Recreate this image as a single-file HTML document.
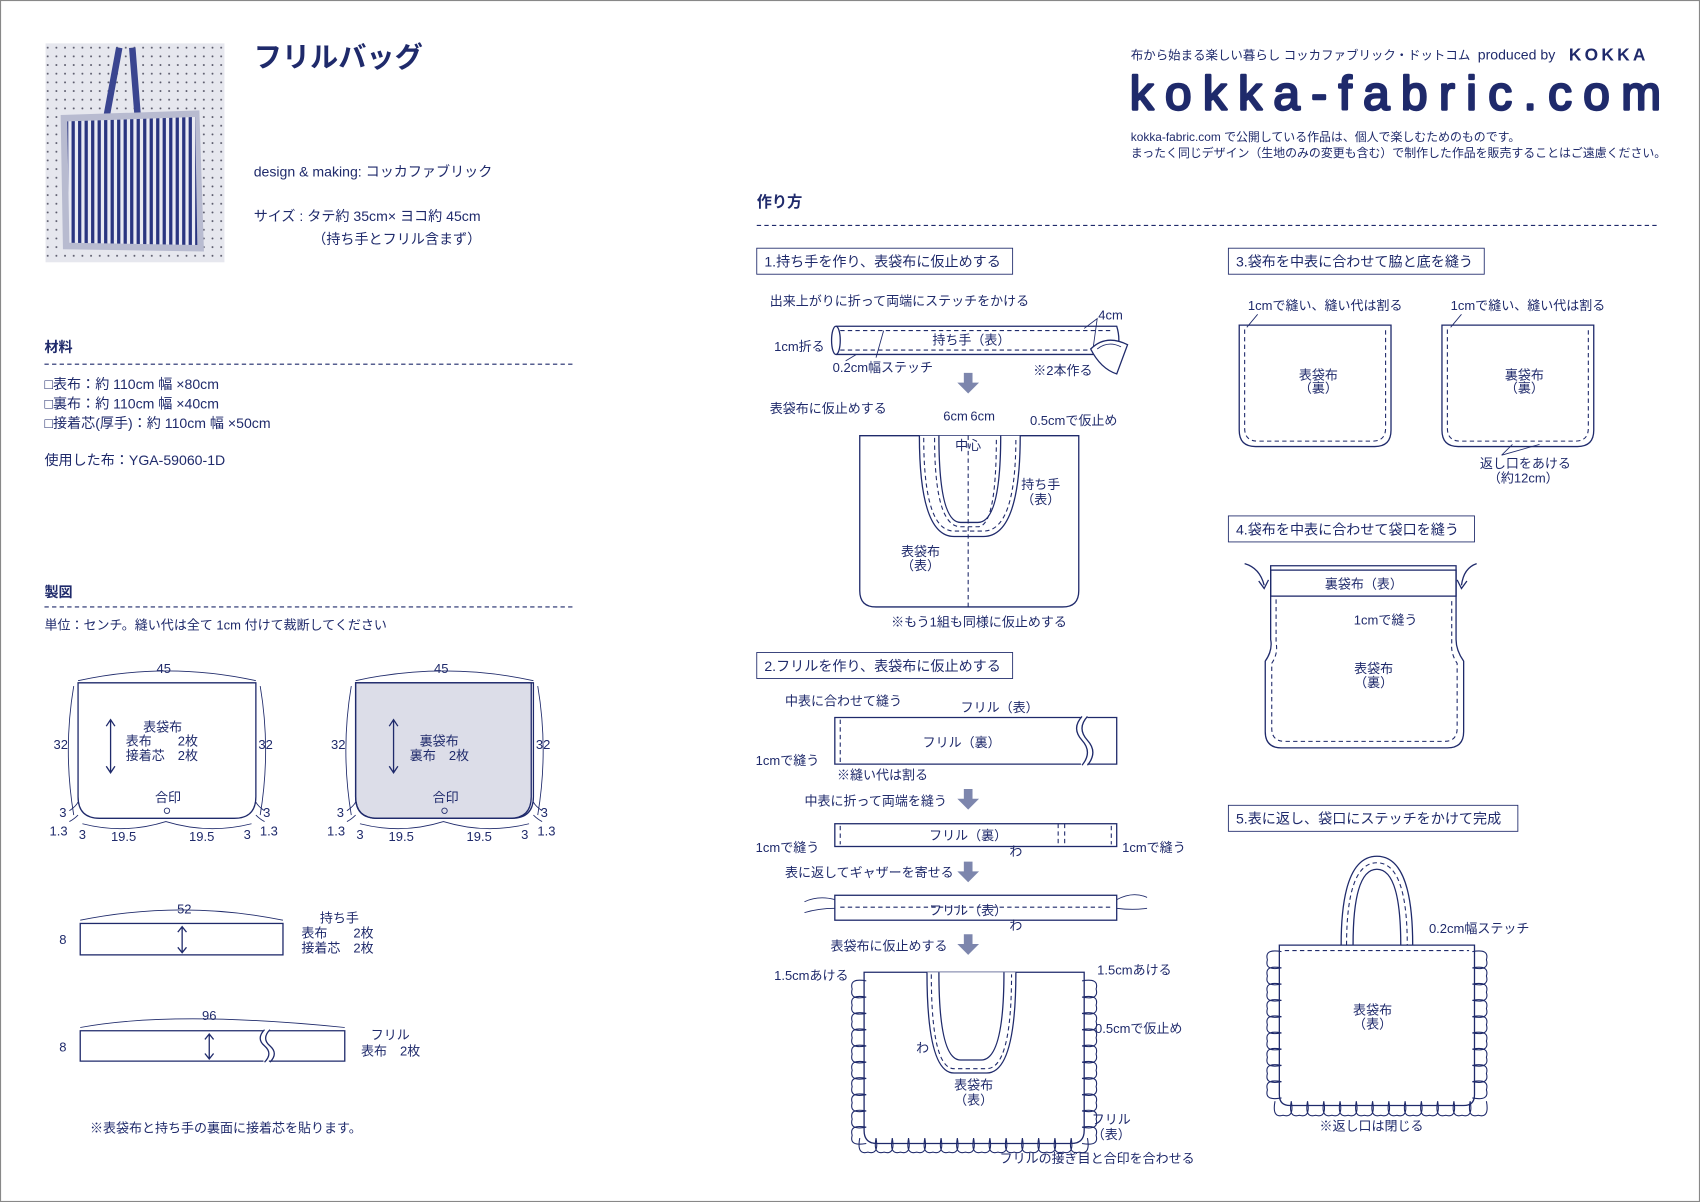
<!DOCTYPE html>
<html><head><meta charset="utf-8"><style>
html,body{margin:0;padding:0;background:#fff;width:1700px;height:1202px;overflow:hidden}
svg{display:block}
text{font-family:"Liberation Sans","Noto Sans CJK JP",sans-serif;fill:#1f2a6b;font-size:12px}
.s{font-size:11.5px}
.m{font-size:13px}
.b{font-weight:bold}
.ln{stroke:#1f2a6b;stroke-width:1.2;fill:none}
.th{stroke:#1f2a6b;stroke-width:0.8;fill:none}
.ds{stroke:#1f2a6b;stroke-width:1;fill:none;stroke-dasharray:4 3}
.fl{stroke:#1f2a6b;stroke-width:1.2;fill:#fff}
.ar{fill:#7d86ad}
</style></head><body>
<svg id="s" width="1700" height="1202" viewBox="0 0 1568 1109" preserveAspectRatio="none">
<rect x="0.5" y="0.5" width="1567" height="1108" fill="#fff" stroke="#888" stroke-width="1"/>
<defs>
<pattern id="st" width="6" height="6" patternUnits="userSpaceOnUse"><rect width="6" height="6" fill="#e8e9f2"/><rect width="3" height="6" fill="#2a3580"/></pattern>
<pattern id="dt" width="8" height="8" patternUnits="userSpaceOnUse"><rect width="8" height="8" fill="#e6e7ee"/><circle cx="4" cy="4" r="0.9" fill="#556"/></pattern>
</defs>
<!-- photo -->
<rect x="42" y="40" width="165" height="202" fill="url(#dt)"/>
<path d="M96 120 L110 44 M122 44 L128 120" fill="none" stroke="#3a4590" stroke-width="6"/>
<path d="M60 110 L180 106 L184 228 L62 226 Z" fill="#c9cbe0" stroke="#b8bbd0" stroke-width="8"/>
<path d="M62 112 L180 108 L182 226 L64 224 Z" fill="url(#st)"/>
<text x="234" y="62" class="b" style="font-size:26px">フリルバッグ</text>
<text x="234" y="163" class="m">design &amp; making: コッカファブリック</text>
<text x="234" y="204" class="m">サイズ : タテ約 35cm× ヨコ約 45cm</text>
<text x="288" y="225" class="m">（持ち手とフリル含まず）</text>
<text x="41" y="325" class="m b">材料</text>
<line x1="41" y1="336" x2="528" y2="336" class="ds"/>
<text x="41" y="359" class="m">□表布：約 110cm 幅 ×80cm</text>
<text x="41" y="377" class="m">□裏布：約 110cm 幅 ×40cm</text>
<text x="41" y="395" class="m">□接着芯(厚手)：約 110cm 幅 ×50cm</text>
<text x="41" y="429" class="m">使用した布：YGA-59060-1D</text>
<text x="41" y="551" class="m b">製図</text>
<line x1="41" y1="560" x2="528" y2="560" class="ds"/>
<text x="41" y="581">単位：センチ。縫い代は全て 1cm 付けて裁断してください</text>
<!-- pattern 1 -->
<g id="p1">
<path d="M72 630 H236 V735 Q236 755 216 755 H92 Q72 755 72 735 Z" class="ln"/>
<path d="M72 628 Q154 610 236 628" class="th"/>
<path d="M68 633 Q58 692 68 752" class="th"/><path d="M240 633 Q250 692 240 752" class="th"/>
<path d="M76 760 Q115 770 153 758 Q192 770 232 760" class="th"/>
<circle cx="154" cy="748" r="2.5" class="th"/>
<text x="151" y="621" text-anchor="middle">45</text>
<text x="56" y="691" text-anchor="middle">32</text><text x="245" y="691" text-anchor="middle">32</text>
<text x="155" y="740" text-anchor="middle">合印</text>
<text x="58" y="754" text-anchor="middle">3</text><text x="54" y="771" text-anchor="middle">1.3</text>
<text x="76" y="774" text-anchor="middle">3</text><text x="114" y="776" text-anchor="middle">19.5</text>
<text x="186" y="776" text-anchor="middle">19.5</text><text x="228" y="774" text-anchor="middle">3</text>
<text x="246" y="754" text-anchor="middle">3</text><text x="248" y="771" text-anchor="middle">1.3</text>
<path d="M64 748 Q70 744 72 740 M64 758 Q68 756 72 752" class="th"/>
<path d="M244 748 Q238 744 236 740 M244 758 Q240 756 236 752" class="th"/>
</g>
<path d="M102 665 V712 M98 670 L102 664 L106 670 M98 707 L102 713 L106 707" class="ln"/>
<text x="150" y="675" text-anchor="middle">表袋布</text>
<text x="116" y="688">表布　　2枚</text><text x="116" y="701">接着芯　2枚</text>
<!-- pattern 2 -->
<path d="M328 630 H490 V735 Q490 755 470 755 H348 Q328 755 328 735 Z" fill="#dcdde8" stroke="#1f2a6b" stroke-width="1.2"/>
<use href="#p1" x="256"/>
<path d="M363 665 V712 M359 670 L363 664 L367 670 M359 707 L363 713 L367 707" class="ln"/>
<text x="405" y="688" text-anchor="middle">裏袋布</text>
<text x="378" y="701">裏布　2枚</text>
<!-- handle -->
<rect x="74" y="852" width="187" height="29" class="ln"/>
<path d="M74 849 Q168 830 261 849" class="th"/>
<text x="170" y="843" text-anchor="middle">52</text><text x="58" y="871" text-anchor="middle">8</text>
<path d="M168 856 V878 M164 860 L168 855 L172 860 M164 874 L168 879 L172 874" class="ln"/>
<text x="295" y="851">持ち手</text><text x="278" y="865">表布　　2枚</text><text x="278" y="879">接着芯　2枚</text>
<!-- frill -->
<path d="M243 951 H74 V979 H243 M248 951 H318 V979 H248" class="ln"/>
<path d="M244 950 Q236 958 244 965 Q252 972 244 980 M249 950 Q241 958 249 965 Q257 972 249 980" class="ln"/>
<path d="M74 948 Q160 932 318 948" class="th"/>
<text x="193" y="941" text-anchor="middle">96</text><text x="58" y="970" text-anchor="middle">8</text>
<path d="M193 955 V976 M189 959 L193 954 L197 959 M189 972 L193 977 L197 972" class="ln"/>
<text x="342" y="959">フリル</text><text x="333" y="974">表布　2枚</text>
<text x="83" y="1045">※表袋布と持ち手の裏面に接着芯を貼ります。</text>
<!-- header right -->
<text x="1043" y="55" class="s">布から始まる楽しい暮らし コッカファブリック・ドットコム</text>
<text x="1363" y="55" class="m">produced by</text>
<text x="1447" y="56" class="b" style="font-size:16px;letter-spacing:3px">KOKKA</text>
<text x="1042" y="101" style="font-size:44px;stroke:#1f2a6b;stroke-width:2.2;stroke-linejoin:round" textLength="490" lengthAdjust="spacing">kokka-fabric.com</text>
<text x="1043" y="130" style="font-size:11px">kokka-fabric.com で公開している作品は、個人で楽しむためのものです。</text>
<text x="1043" y="145" style="font-size:11px">まったく同じデザイン（生地のみの変更も含む）で制作した作品を販売することはご遠慮ください。</text>
<text x="698" y="191" class="b" style="font-size:14px">作り方</text>
<line x1="698" y1="208" x2="1530" y2="208" class="ds"/>
<!-- step boxes -->
<rect x="698" y="229" width="236" height="24" class="th"/><text x="705" y="246" class="m">1.持ち手を作り、表袋布に仮止めする</text>
<rect x="1133" y="229" width="236" height="24" class="th"/><text x="1140" y="246" class="m">3.袋布を中表に合わせて脇と底を縫う</text>
<rect x="1133" y="476" width="227" height="24" class="th"/><text x="1140" y="493" class="m">4.袋布を中表に合わせて袋口を縫う</text>
<rect x="698" y="602" width="236" height="24" class="th"/><text x="705" y="619" class="m">2.フリルを作り、表袋布に仮止めする</text>
<rect x="1133" y="743" width="267" height="24" class="th"/><text x="1140" y="760" class="m">5.表に返し、袋口にステッチをかけて完成</text>
<!-- step1 -->
<text x="710" y="282">出来上がりに折って両端にステッチをかける</text>
<path d="M771 301 H1030 Q1034 314 1030 327 H771" class="ln"/>
<ellipse cx="771" cy="314" rx="4" ry="13" class="ln"/>
<path d="M775 305 H1026 M775 323 H1026" class="ds"/>
<text x="896" y="318" text-anchor="middle">持ち手（表）</text>
<text x="714" y="324">1cm折る</text><text x="768" y="343">0.2cm幅ステッチ</text>
<text x="953" y="346">※2本作る</text><text x="1013" y="295">4cm</text>
<path d="M1000 303 L1012 294 L1008 323" class="th"/><path d="M790 327 L780 333 M815 305 L808 330" class="th"/>
<path d="M1006 322 Q1020 308 1040 318 L1030 345 Q1015 340 1006 322 Z" class="fl"/>
<path d="M1012 322 Q1022 314 1034 320" class="th"/>
<path class="ar" d="M889 344 h8 v9 h6 l-10 10 l-10 -10 h6 z"/>
<text x="710" y="381">表袋布に仮止めする</text>
<text x="870" y="388">6cm</text><text x="895" y="388">6cm</text><text x="950" y="392">0.5cmで仮止め</text>
<path d="M793 402 H995 V545 Q995 560 980 560 H808 Q793 560 793 545 Z" class="ln"/>
<path d="M848 402 Q848 495 880 495 H907 Q941 495 941 402 M866 402 Q866 482 886 482 H902 Q923 482 923 402" class="fl"/>
<path d="M852 404 Q852 490 880 490 H907 Q937 490 937 404 M862 404 Q862 486 886 486 H902 Q919 486 919 404" class="ds"/>
<line x1="893" y1="402" x2="893" y2="560" class="ds"/>
<text x="893" y="415" text-anchor="middle">中心</text>
<text x="960" y="451" text-anchor="middle">持ち手</text><text x="960" y="465" text-anchor="middle">（表）</text>
<text x="849" y="513" text-anchor="middle">表袋布</text><text x="849" y="526" text-anchor="middle">（表）</text>
<text x="903" y="578" text-anchor="middle">※もう1組も同様に仮止めする</text>
<!-- step2 -->
<text x="724" y="651">中表に合わせて縫う</text><text x="886" y="657">フリル（表）</text>
<path d="M997 662 H770 V705 H997 M1003 662 H1030 V705 H1003" class="ln"/>
<path d="M998 661 Q988 672 998 683 Q1008 694 998 706 M1003 661 Q993 672 1003 683 Q1013 694 1003 706" class="ln"/>
<line x1="775" y1="664" x2="775" y2="703" class="ds"/>
<text x="887" y="689" text-anchor="middle">フリル（裏）</text>
<text x="697" y="706">1cmで縫う</text><text x="772" y="719">※縫い代は割る</text>
<path class="ar" d="M889 728 h8 v9 h6 l-10 10 l-10 -10 h6 z"/>
<text x="742" y="743">中表に折って両端を縫う</text>
<rect x="770" y="760" width="260" height="21" class="ln"/>
<path d="M775 762 V779 M1025 762 V779 M976 760 V781 M982 760 V781" class="ds"/>
<text x="893" y="775" text-anchor="middle">フリル（裏）</text>
<text x="697" y="786">1cmで縫う</text><text x="1035" y="786">1cmで縫う</text><text x="931" y="790">わ</text>
<path class="ar" d="M889 795 h8 v9 h6 l-10 10 l-10 -10 h6 z"/>
<text x="724" y="809">表に返してギャザーを寄せる</text>
<rect x="770" y="826" width="260" height="23" class="ln"/>
<path d="M770 830 Q755 826 742 832 M770 838 Q755 838 742 842 M1030 830 Q1045 822 1058 828 M1030 838 Q1045 840 1058 838" class="th"/>
<line x1="775" y1="837" x2="1025" y2="837" class="ds"/>
<text x="893" y="844" text-anchor="middle">フリル（表）</text><text x="931" y="858">わ</text>
<path class="ar" d="M889 862 h8 v9 h6 l-10 10 l-10 -10 h6 z"/>
<text x="766" y="877">表袋布に仮止めする</text>
<g id="fb"></g>
<path d="M797 897 H1000 V1043 Q1000 1055 988 1055 H809 Q797 1055 797 1043 Z" class="ln"/>
<path d="M855 897 Q855 990 880 990 H910 Q937 990 937 897 M866 897 Q866 978 886 978 H905 Q926 978 926 897" class="fl"/>
<path d="M859 899 Q859 986 880 986 H910 Q933 986 933 899" class="ds"/>
<text x="714" y="904">1.5cmあける</text><text x="1012" y="899">1.5cmあける</text>
<text x="1010" y="953">0.5cmで仮止め</text><text x="845" y="971">わ</text>
<text x="898" y="1005" text-anchor="middle">表袋布</text><text x="898" y="1019" text-anchor="middle">（表）</text>
<text x="1025" y="1037" text-anchor="middle">フリル</text><text x="1025" y="1051" text-anchor="middle">（表）</text>
<text x="922" y="1073">フリルの接ぎ目と合印を合わせる</text>
<!-- step3 -->
<text x="1151" y="286">1cmで縫い、縫い代は割る</text><text x="1338" y="286">1cmで縫い、縫い代は割る</text>
<path d="M1143 300 H1283 V397 Q1283 412 1268 412 H1158 Q1143 412 1143 397 Z" class="ln"/>
<path d="M1148 304 V395 Q1148 407 1160 407 H1266 Q1278 407 1278 395 V304" class="ds"/>
<path d="M1330 300 H1470 V397 Q1470 412 1455 412 H1345 Q1330 412 1330 397 Z" class="ln"/>
<path d="M1335 304 V395 Q1335 407 1347 407 H1453 Q1465 407 1465 395 V304" class="ds"/>
<path d="M1160 290 L1150 302 M1348 290 L1338 302 M1385 420 L1395 410 M1385 420 L1420 410" class="th"/>
<text x="1216" y="350" text-anchor="middle">表袋布</text><text x="1216" y="362" text-anchor="middle">（裏）</text>
<text x="1406" y="350" text-anchor="middle">裏袋布</text><text x="1406" y="362" text-anchor="middle">（裏）</text>
<text x="1407" y="432" text-anchor="middle">返し口をあける</text><text x="1405" y="445" text-anchor="middle">（約12cm）</text>
<!-- step4 -->
<path d="M1172 522 H1343 V590 Q1343 600 1350 610 V675 Q1350 690 1335 690 H1182 Q1167 690 1167 675 V610 Q1174 600 1172 590 Z" class="ln"/>
<rect x="1172" y="526" width="171" height="24" class="ln"/>
<path d="M1177 553 V593 Q1179 603 1173 612 V672 Q1173 684 1185 684 H1332 Q1344 684 1344 672 V612 Q1338 603 1339 593 V553" class="ds"/>
<text x="1258" y="543" text-anchor="middle">裏袋布（表）</text>
<text x="1278" y="576" text-anchor="middle">1cmで縫う</text>
<text x="1267" y="621" text-anchor="middle">表袋布</text><text x="1267" y="634" text-anchor="middle">（裏）</text>
<path d="M1148 520 Q1162 524 1166 540 M1362 520 Q1350 524 1348 540" class="ln"/>
<path d="M1161 536 L1166 543 L1170 535 M1344 535 L1348 543 L1353 536" class="ln"/>
<!-- step5 -->
<path d="M1237 872 Q1237 790 1270 790 Q1303 790 1303 872 M1248 872 Q1248 802 1270 802 Q1292 802 1292 872" class="fl"/>
<path d="M1242 872 Q1242 796 1270 796 Q1298 796 1298 872" class="ds"/>
<g id="fb2"></g>
<path d="M1180 872 H1360 V1010 Q1360 1020 1350 1020 H1190 Q1180 1020 1180 1010 Z" class="ln"/>
<path d="M1185 877 H1355" class="ds"/>
<text x="1318" y="861">0.2cm幅ステッチ</text>
<text x="1266" y="936" text-anchor="middle">表袋布</text><text x="1266" y="949" text-anchor="middle">（表）</text>
<text x="1265" y="1043" text-anchor="middle">※返し口は閉じる</text>
</svg>
<script>
function frill(g,x0,y0,x1,y1,w){var s=document.getElementById(g),d='',step=15;
for(var y=y0;y<y1-4;y+=step){d+='M'+x0+' '+y+' Q'+(x0-w)+' '+(y-3)+' '+(x0-w+3)+' '+(y+step/2)+' Q'+(x0-w)+' '+(y+step+3)+' '+x0+' '+(y+step)+' ';
d+='M'+x1+' '+y+' Q'+(x1+w)+' '+(y-3)+' '+(x1+w-3)+' '+(y+step/2)+' Q'+(x1+w)+' '+(y+step+3)+' '+x1+' '+(y+step)+' ';}
for(var x=x0-6;x<x1+4;x+=step){d+='M'+x+' '+y1+' Q'+(x-3)+' '+(y1+w)+' '+(x+step/2)+' '+(y1+w-3)+' Q'+(x+step+3)+' '+(y1+w)+' '+(x+step)+' '+y1+' ';}
s.innerHTML='<path d="'+d+'" fill="#fff" stroke="#1f2a6b" stroke-width="1"/>';}
frill('fb',799,905,998,1050,16);frill('fb2',1182,878,1358,1016,16);
</script>
</body></html>
